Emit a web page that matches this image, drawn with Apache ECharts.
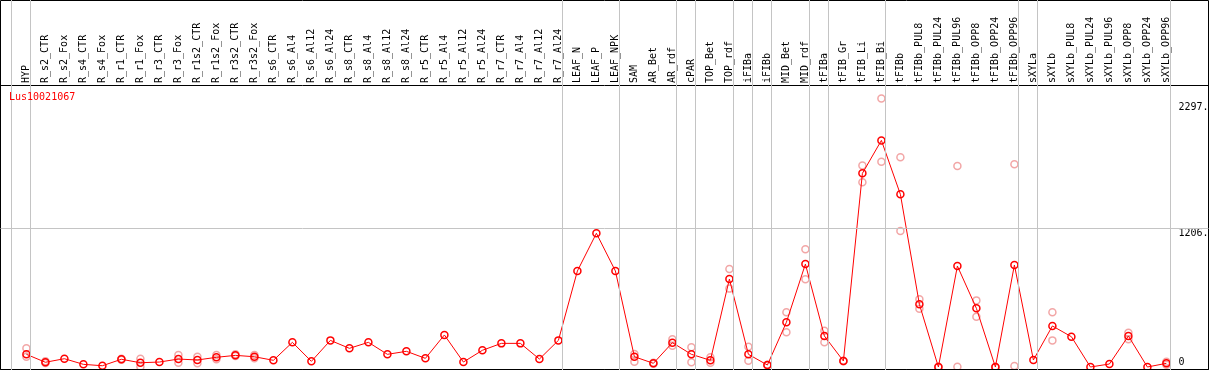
<!DOCTYPE html>
<html><head><meta charset="utf-8">
<style>html,body{margin:0;padding:0;background:#fff}#c{width:1209px;height:370px}</style>
<script src="https://cdn.jsdelivr.net/npm/echarts@6/dist/echarts.min.js"></script>
</head><body><div id="c"></div>
<script>
const chartTitle = 'Lus10021067';
const categories = ['HYP','R_s2_CTR','R_s2_Fox','R_s4_CTR','R_s4_Fox','R_r1_CTR','R_r1_Fox','R_r3_CTR','R_r3_Fox','R_r1s2_CTR','R_r1s2_Fox','R_r3s2_CTR','R_r3s2_Fox','R_s6_CTR','R_s6_Al4','R_s6_Al12','R_s6_Al24','R_s8_CTR','R_s8_Al4','R_s8_Al12','R_s8_Al24','R_r5_CTR','R_r5_Al4','R_r5_Al12','R_r5_Al24','R_r7_CTR','R_r7_Al4','R_r7_Al12','R_r7_Al24','LEAF_N','LEAF_P','LEAF_NPK','SAM','AR_Bet','AR_rdf','cPAR','TOP_Bet','TOP_rdf','iFIBa','iFIBb','MID_Bet','MID_rdf','tFIBa','tFIB_Gr','tFIB_Li','tFIB_Bi','tFIBb','tFIBb_PUL8','tFIBb_PUL24','tFIBb_PUL96','tFIBb_OPP8','tFIBb_OPP24','tFIBb_OPP96','sXYLa','sXYLb','sXYLb_PUL8','sXYLb_PUL24','sXYLb_PUL96','sXYLb_OPP8','sXYLb_OPP24','sXYLb_OPP96'];
const means = [110,41,72,23,11,67,37,43,69,61,84,101,89,58,214,49,231,162,214,110,136,75,278,43,145,205,205,69,231,833,1160,833,89,32,211,110,58,763,110,17,388,893,269,52,1680,1966,1498,544,0,876,509,0,885,61,356,263,0,26,269,0,32];
const repHigh = [162,50,null,null,null,72,72,null,104,89,104,110,104,null,null,null,null,null,null,null,null,null,null,null,null,null,null,null,null,null,null,null,113,36,240,171,84,850,176,20,474,1021,315,55,1749,2330,1819,587,2,1743,578,0,1760,null,474,null,null,null,298,null,46];
const repLow  = [89,35,null,null,null,62,3,null,37,32,67,95,75,null,null,null,null,null,null,null,null,null,null,null,null,null,null,null,null,null,null,null,46,28,185,41,37,680,55,14,301,761,214,49,1602,1781,1180,506,0,3,436,0,9,null,231,null,null,null,240,null,20];
const groupLast = ['HYP','R_r7_Al24','LEAF_NPK','AR_rdf','cPAR','TOP_rdf','iFIBa','iFIBb','MID_rdf','tFIBa','tFIB_Bi','tFIBb_OPP96','sXYLa','sXYLb_OPP96'];
const yTicks = [0, 1206, 2297];
const yTickLabels = ['0', '1206.', '2297.'];
const gridLineValues = [1206];

const FONT = 'DejaVu Sans Mono';
const SEP_OFF = 0.21;
const sepIdx = [-1].concat(groupLast.map(n => categories.indexOf(n)));
const reps = [];
categories.forEach((c, i) => {
  if (repHigh[i] != null) reps.push([i, repHigh[i]]);
  if (repLow[i] != null) reps.push([i, repLow[i]]);
});

const chart = echarts.init(document.getElementById('c'), null, {renderer: 'canvas'});
chart.setOption({
  animation: false,
  title: {text: chartTitle, left: 9, top: 92, padding: 0,
    textStyle: {fontFamily: FONT, fontSize: 10, fontWeight: 'normal', color: '#ff0000'}},
  grid: [
    {left: 0.5, top: 0.5, right: 0.5, bottom: 0.5, show: true, borderColor: '#000', borderWidth: 1, backgroundColor: 'transparent', outerBoundsMode: 'none', containLabel: false, z: 5},
    {left: 0.5, top: 85.5, right: 0.5, bottom: 0.5, show: true, borderColor: '#000', borderWidth: 1, backgroundColor: 'transparent', outerBoundsMode: 'none', containLabel: false, z: 5},
    {left: 7.4, top: 0, right: 4.6, bottom: 0, show: false, outerBoundsMode: 'none', containLabel: false}
  ],
  xAxis: [
    {gridIndex: 0, type: 'value', show: false, min: 0, max: 1},
    {gridIndex: 1, type: 'value', show: false, min: 0, max: 1},
    {gridIndex: 2, type: 'value', min: -1, max: 62, interval: 1, position: 'top', offset: -85,
      axisLine: {show: false, onZero: false}, axisTick: {show: false}, splitLine: {show: false},
      axisLabel: {show: true, rotate: -90, margin: 2, fontFamily: FONT, fontSize: 10, color: '#000',
        showMinLabel: true, showMaxLabel: true,
        formatter: v => (categories[v] !== undefined ? categories[v] : '')}}
  ],
  yAxis: [
    {gridIndex: 0, type: 'value', show: false, min: 0, max: 1},
    {gridIndex: 1, type: 'value', min: -21.7, max: 2441.5, position: 'right', offset: -31,
      axisLine: {show: false, onZero: false}, axisTick: {show: false, customValues: yTicks},
      splitLine: {show: false},
      axisLabel: {show: true, customValues: yTicks, margin: 1, fontFamily: FONT, fontSize: 10, color: '#000',
        formatter: v => {
          const k = yTicks.indexOf(v);
          const s = k >= 0 ? yTickLabels[k] : '';
          return v === 0 ? '{lo|' + s + '}' : '{hi|' + s + '}';
        },
        rich: {
          lo: {fontFamily: FONT, fontSize: 10, lineHeight: 12, color: '#000', padding: [0, 0, 9, 0]},
          hi: {fontFamily: FONT, fontSize: 10, lineHeight: 12, color: '#000', padding: [10, 0, 0, 0]}
        }}},
    {gridIndex: 2, type: 'value', show: false, min: -26, max: 3184}
  ],
  series: [
    {type: 'line', xAxisIndex: 1, yAxisIndex: 1, data: [], silent: true,
      markLine: {silent: true, symbol: 'none', animation: false, label: {show: false},
        lineStyle: {color: '#c4c4c4', width: 1, type: 'solid'},
        emphasis: {disabled: true},
        data: gridLineValues.map(v => ({yAxis: v}))}},
    {type: 'line', xAxisIndex: 2, yAxisIndex: 2, data: [], silent: true,
      markLine: {silent: true, symbol: 'none', animation: false, label: {show: false},
        lineStyle: {color: '#c4c4c4', width: 1, type: 'solid'},
        emphasis: {disabled: true},
        data: sepIdx.map(i => ({xAxis: i + SEP_OFF}))}},
    {type: 'scatter', xAxisIndex: 2, yAxisIndex: 2, data: reps, symbol: 'circle', symbolSize: 7, silent: true,
      itemStyle: {color: 'rgba(0,0,0,0)', borderColor: '#ef9090', borderWidth: 1.5}, z: 3},
    {type: 'line', xAxisIndex: 2, yAxisIndex: 2, data: means.map((v, i) => [i, v]), silent: true,
      symbol: 'circle', symbolSize: 7, showSymbol: true, showAllSymbol: true,
      lineStyle: {color: '#ff0000', width: 1},
      itemStyle: {color: 'rgba(0,0,0,0)', borderColor: '#ff0000', borderWidth: 1.5}, z: 4}
  ]
});
</script>
</body></html>
